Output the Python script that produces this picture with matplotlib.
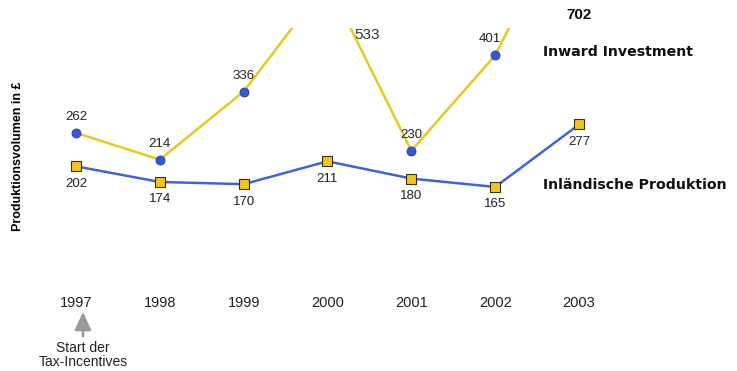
import matplotlib
matplotlib.use("Agg")
import matplotlib.pyplot as plt

plt.rcParams['font.family'] = ['Liberation Sans', 'DejaVu Sans']

years = [1997, 1998, 1999, 2000, 2001, 2002, 2003]
inward = [262, 214, 336, 533, 230, 401, 702]
inland = [202, 174, 170, 211, 180, 165, 277]

yellow = '#e8c920'
blue = '#4063dc'

fig = plt.figure(figsize=(7.37, 3.71), dpi=100)
ax = fig.add_axes([0.0461, 0.248, 0.7965, 0.6765])
ax.set_xlim(1996.5, 2003.5)
ax.set_ylim(0, 450)

ax.plot(years, inward, color=yellow, lw=1.8, marker='o', ms=6.5,
        mfc='#3558d8', mec='#2a3f8f', mew=0.6, zorder=3)
ax.plot(years, inland, color=blue, lw=1.8, marker='s', ms=7,
        mfc='#f2c51e', mec='#3a3000', mew=0.8, zorder=3)

# value labels; the two peaks above the plot area get placed by hand
for x, v in zip(years, inward):
    if v > 450:
        continue
    dx = -4 if x == 2002 else 0
    ax.annotate(str(v), (x, v), xytext=(dx, 11.5), textcoords='offset points',
                ha='center', va='center', fontsize=9.5, color='#222222')
ax.text(2000.47, 437, '533', ha='center', va='center', fontsize=11, color='#333333')
ax.text(2003, 473, '702', ha='center', va='center', fontsize=11,
        fontweight='bold', color='#111111', clip_on=False)

for x, v in zip(years, inland):
    ax.annotate(str(v), (x, v), xytext=(0, -12.5), textcoords='offset points',
                ha='center', va='center', fontsize=9.5, color='#222222')

fig.text(543 / 737, 1 - 52 / 371, 'Inward Investment', ha='left', va='center',
         fontsize=10.2, fontweight='bold', color='#111111', family='DejaVu Sans')
fig.text(543 / 737, 1 - 185 / 371, 'Inländische Produktion', ha='left', va='center',
         fontsize=10.2, fontweight='bold', color='#111111', family='DejaVu Sans')

fig.text(18 / 737, 1 - 156 / 371, 'Produktionsvolumen in £', rotation=90,
         ha='center', va='center', fontsize=9, fontweight='bold',
         family=['Liberation Sans Narrow', 'Liberation Sans', 'DejaVu Sans'])

ax.set_xticks(years)
ax.set_xticklabels([str(y) for y in years], fontsize=10.5, color='#222222')
ax.tick_params(axis='x', length=0, pad=12)
ax.set_yticks([])
for s in ax.spines.values():
    s.set_visible(False)

# arrow marking the start of the tax incentives
ax.annotate('', xy=(83 / 737, 1 - 309 / 371), xycoords='figure fraction',
            xytext=(83 / 737, 1 - 339 / 371), textcoords='figure fraction',
            arrowprops=dict(arrowstyle='-|>,head_width=0.5,head_length=1.1',
                            color='#999999', lw=1.8))
fig.text(83 / 737, 1 - 354.5 / 371, 'Start der\nTax-Incentives', ha='center',
         va='center', fontsize=10, color='#222222', linespacing=1.0)

fig.savefig('out.png', dpi=100)
